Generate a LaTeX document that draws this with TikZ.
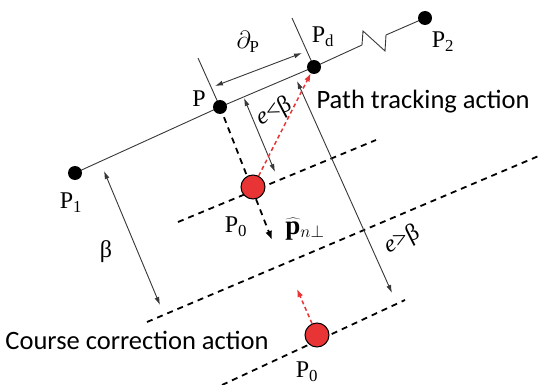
\documentclass[tikz,border=0pt]{standalone}
\usepackage{fontspec}
\setmainfont{Liberation Serif}
\newfontfamily\carl{Carlito}
\usetikzlibrary{arrows.meta}
\definecolor{pred}{RGB}{232,52,52}
\definecolor{lgray}{RGB}{55,55,55}
\begin{document}
\begin{tikzpicture}[x=1pt,y=-1pt,
  thinline/.style={lgray, line width=0.9pt},
  dbl/.style={thinline, {Latex[length=8pt,width=5pt]}-{Latex[length=8pt,width=5pt]}},
  dashline/.style={black, line width=1.8pt, dash pattern=on 6pt off 5pt},
  dot/.style={circle, fill=black, inner sep=0pt, minimum size=14pt},
  rdot/.style={circle, fill=pred, draw=black, line width=1pt, inner sep=0pt, minimum size=24pt},
  lbl/.style={font=\fontsize{24}{28}\selectfont, inner sep=0pt},
  sans/.style={font=\carl\fontsize{26.5}{30}\selectfont, inner sep=0pt}]
\useasboundingbox (0,0) rectangle (541,385);
% path points
\coordinate (Z1) at (362,45);
\coordinate (Z2) at (363,31);
\coordinate (Z3) at (385,51);
\coordinate (Z4) at (386,35);
\coordinate (tP) at (198,58);
\coordinate (tPd) at (292,18);
% dashed offset lines
\coordinate (u1) at (178,222);
\coordinate (u2) at (376,140);
\coordinate (m1) at (147,322);
\coordinate (m2) at (541,155);
\coordinate (b1) at (222,385);
\coordinate (b2) at (405,300);
\coordinate (pn) at (272,240);
\coordinate (rt) at (297,289);
% arrow ends
\coordinate (a1) at (215,86);
\coordinate (a2) at (302,53);
\coordinate (c1) at (244,98);
\coordinate (c2) at (275,172);
\coordinate (d1) at (297,81);
\coordinate (d2) at (392,293);
\coordinate (f1) at (104,171);
\coordinate (f2) at (160,305);
% dashed lines
\draw[dashline] (u1) -- (u2);
\draw[dashline] (m1) -- (m2);
\draw[dashline] (b1) -- (b2);
% path
\draw[thinline] (75,173) -- (220,107) -- (314,67) -- (Z1) -- (Z2) -- (Z3) -- (Z4) -- (425,18);
\draw[thinline] (tP) -- (220,107);
\draw[thinline] (tPd) -- (314,67);
% dashed normal
\draw[dashline, -{Latex[length=9pt,width=7pt]}] (220,107) -- (pn);
% nodes
\node[dot] (P1) at (75,173) {};
\node[dot] (P) at (220,107) {};
\node[dot] (Pd) at (314,67) {};
\node[dot] (P2) at (425,18) {};
\node[rdot] (P0) at (253,187) {};
\node[rdot] (P0b) at (317,335) {};
% measurement arrows
\draw[dbl] (a1) -- (a2);
\draw[dbl] (c1) -- (c2);
\draw[dbl] (d1) -- (d2);
\draw[dbl] (f1) -- (f2);
% red arrows
\draw[pred, line width=1.5pt, dash pattern=on 4pt off 3pt, -{Latex[length=8pt,width=6pt]}] (P0) -- (Pd);
\draw[pred, line width=1.5pt, dash pattern=on 4pt off 3pt, -{Latex[length=8pt,width=6pt]}] (P0b) -- (rt);
% labels
\node[lbl] (lP) at (199,99) {P};
\node[lbl] (lPd) at (323,37) {P\textsubscript{d}};
\node[lbl] (lP1) at (71,203) {P\textsubscript{1}};
\node[lbl] (lP2) at (443,42) {P\textsubscript{2}};
\node[lbl] (lD) at (248,42) {$\partial_{\mathrm{P}}$};
\node[lbl, rotate=28] (lel) at (274,112) {\textit{e}<β};
\node[lbl] (lP0) at (236,227) {P\textsubscript{0}};
\node[lbl, font=\fontsize{27}{30}\selectfont] (lpn) at (305,229) {$\widehat{\mathbf{p}}_{n\perp}$};
\node[lbl] (lb) at (106,252) {β};
\node[lbl, rotate=27] (leg) at (402,240) {\textit{e}>β};
\node[lbl] (lP0b) at (307,372) {P\textsubscript{0}};
\node[sans] (lpt) at (423,102) {Path tracking action};
\node[sans] (lcc) at (137,340) {Course correction action};
\end{tikzpicture}
\end{document}
